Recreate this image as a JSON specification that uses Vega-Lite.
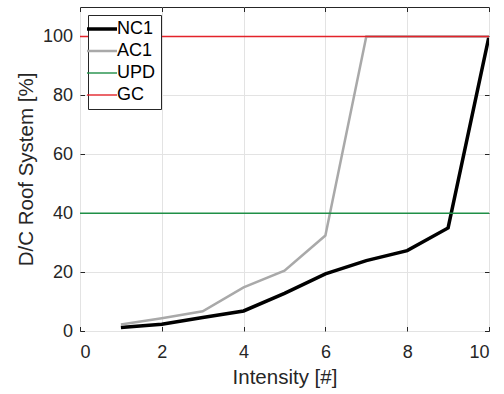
{
  "$schema": "https://vega.github.io/schema/vega-lite/v6.json",
  "autosize": "none",
  "width": 409,
  "height": 324,
  "padding": {"left": 80, "top": 7, "right": 15, "bottom": 63},
  "background": "white",
  "config": {
    "font": "Liberation Sans",
    "view": {"stroke": "#262626", "strokeWidth": 1},
    "axis": {
      "labelFont": "Liberation Sans",
      "titleFont": "Liberation Sans",
      "labelColor": "#262626",
      "titleColor": "#262626",
      "labelFontSize": 18,
      "titleFontSize": 20.5,
      "titleFontWeight": "normal",
      "tickColor": "#262626",
      "tickSize": -4.5,
      "domain": false,
      "gridColor": "#e3e3e3",
      "gridWidth": 1
    }
  },
  "data": {
    "values": [
      {"series": "NC1", "x": 1, "y": 1.2},
      {"series": "NC1", "x": 2, "y": 2.3},
      {"series": "NC1", "x": 3, "y": 4.6},
      {"series": "NC1", "x": 4, "y": 6.8},
      {"series": "NC1", "x": 5, "y": 12.8},
      {"series": "NC1", "x": 6, "y": 19.4},
      {"series": "NC1", "x": 7, "y": 23.9},
      {"series": "NC1", "x": 8, "y": 27.3},
      {"series": "NC1", "x": 9, "y": 35.0},
      {"series": "NC1", "x": 10, "y": 100},
      {"series": "AC1", "x": 1, "y": 2.2},
      {"series": "AC1", "x": 2, "y": 4.3},
      {"series": "AC1", "x": 3, "y": 6.7},
      {"series": "AC1", "x": 4, "y": 14.8},
      {"series": "AC1", "x": 5, "y": 20.5},
      {"series": "AC1", "x": 6, "y": 32.4},
      {"series": "AC1", "x": 7, "y": 100},
      {"series": "AC1", "x": 8, "y": 100},
      {"series": "AC1", "x": 9, "y": 100},
      {"series": "AC1", "x": 10, "y": 100},
      {"series": "UPD", "x": 0, "y": 40},
      {"series": "UPD", "x": 10, "y": 40},
      {"series": "GC", "x": 0, "y": 100},
      {"series": "GC", "x": 10, "y": 100}
    ]
  },
  "layer": [
    {
      "transform": [{"filter": "datum.series === 'NC1'"}],
      "mark": {"type": "line", "strokeWidth": 3.5, "strokeJoin": "miter", "clip": true},
      "encoding": {
        "x": {
          "field": "x", "type": "quantitative",
          "scale": {"domain": [0, 10], "nice": false},
          "axis": {"orient": "bottom", "values": [0, 2, 4, 6, 8, 10], "title": "Intensity [#]", "labelPadding": 17, "titlePadding": 6, "grid": true}
        },
        "y": {
          "field": "y", "type": "quantitative",
          "scale": {"domain": [0, 110], "nice": false},
          "axis": {"orient": "left", "values": [0, 20, 40, 60, 80, 100], "title": "D/C Roof System [%]", "labelPadding": 12, "titlePadding": 6, "grid": true}
        },
        "color": {
          "field": "series", "type": "nominal",
          "scale": {"domain": ["NC1", "AC1", "UPD", "GC"], "range": ["#000000", "#a9a9a9", "#1f8f47", "#e3232a"]},
          "legend": {
            "title": null,
            "orient": "none",
            "legendX": 8,
            "legendY": 8,
            "padding": 5,
            "rowPadding": 4,
            "fillColor": "white",
            "strokeColor": "#262626",
            "labelFont": "Liberation Sans",
            "labelFontSize": 18,
            "labelColor": "#000000",
            "labelOffset": 6,
            "symbolSize": 380,
            "symbolStrokeWidth": 3.5,
            "symbolType": "M-1.54,0L1.54,0",
            "encode": {
              "symbols": {
                "update": {
                  "strokeWidth": {"signal": "datum.value === 'NC1' ? 3.5 : datum.value === 'AC1' ? 2.5 : 1.4"}
                }
              }
            }
          }
        }
      }
    },
    {
      "transform": [{"filter": "datum.series === 'AC1'"}],
      "mark": {"type": "line", "strokeWidth": 2.5, "strokeJoin": "miter", "clip": true},
      "encoding": {
        "x": {"field": "x", "type": "quantitative", "axis": null},
        "y": {"field": "y", "type": "quantitative", "axis": null},
        "color": {"field": "series", "type": "nominal"}
      }
    },
    {
      "transform": [{"filter": "datum.series === 'UPD' || datum.series === 'GC'"}],
      "mark": {"type": "line", "strokeWidth": 1.4, "clip": true},
      "encoding": {
        "x": {
          "field": "x", "type": "quantitative",
          "axis": {"orient": "top", "values": [0, 2, 4, 6, 8, 10], "labels": false, "title": null, "grid": false}
        },
        "y": {
          "field": "y", "type": "quantitative",
          "axis": {"orient": "right", "values": [0, 20, 40, 60, 80, 100], "labels": false, "title": null, "grid": false}
        },
        "color": {"field": "series", "type": "nominal"}
      }
    }
  ],
  "resolve": {"axis": {"x": "independent", "y": "independent"}}
}
